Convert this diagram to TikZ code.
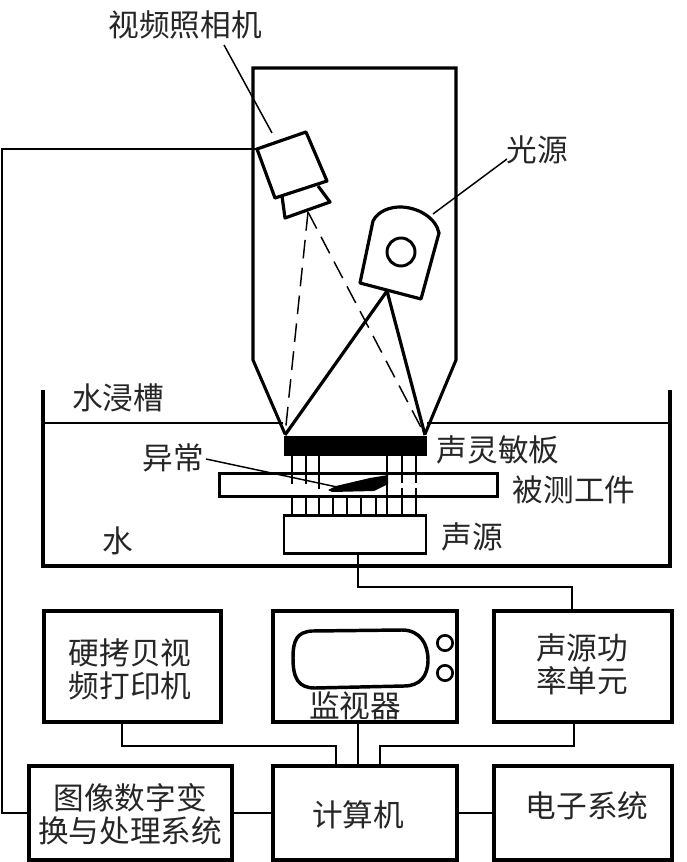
\documentclass[tikz,border=0pt]{standalone}
\usepackage{fontspec}
\newfontfamily\cjk{Noto Sans CJK SC}
\usetikzlibrary{calc}
\tikzset{
  x=0.75pt,y=-0.75pt,
  txt/.style={font=\cjk\fontsize{23}{25}\selectfont,inner sep=0pt,align=center,text=black!85},
  box/.style={draw,line width=2.6pt,inner sep=0pt,outer sep=0pt,fill=white},
  wire/.style={line width=1pt},
  wall/.style={line width=2.3pt},
  beam/.style={line width=2.4pt},
  lead/.style={line width=1.1pt},
  ray/.style={line width=1.1pt,dash pattern=on 14pt off 7pt},
  pin/.style={line width=1pt},
}
\begin{document}
\begin{tikzpicture}
\useasboundingbox (0,0) rectangle (686,862);
\fill[white] (0,0) rectangle (686,862);

% housing
\draw[wall,line join=miter] (285,434) -- (253,360) -- (253,68) -- (456,68) -- (456,360) -- (425,434);
% tank
\draw[wall] (43,390) -- (43,566) -- (670,566) -- (670,390);
\draw[wire] (43,423) -- (283,423);
\draw[wire] (427,423) -- (670,423);

% plate, workpiece, source
\node[draw,fill=black,line width=0.5pt,inner sep=0pt,outer sep=0pt,minimum width=106.5pt,minimum height=14.5pt] (plate) at (355,445.5) {};
\node[box,line width=2.2pt,minimum width=208.5pt,minimum height=17.5pt] (work) at (358.5,485) {};
\node[box,line width=2.2pt,minimum width=106.5pt,minimum height=29pt] (src) at (355,534.5) {};

% ultrasonic lines
\foreach \xx in {292,306,319,387,402,416}{
  \draw[pin] (\xx,456) -- (\xx,473);
  \draw[pin] (\xx,497) -- (\xx,515);
}
\foreach \xx in {333,347,361,376}{ \draw[pin] (\xx,497) -- (\xx,515); }
\foreach \xx in {292,306}{ \draw[pin] (\xx,473) -- (\xx,484); }
\draw[pin] (319,473) -- (319,489);
\draw[pin] (387,473) -- (387,497);
\foreach \xx in {402,416}{ \draw[pin] (\xx,473) -- (\xx,483); \draw[pin] (\xx,488) -- (\xx,497); }

% anomaly
\fill[black] (328,490) -- (336,486) -- (370,478) -- (388,475) -- (388,484) -- (374,491) -- (332,492) -- cycle;
\coordinate (anomalypt) at (337,487);
\node[txt] (lblano) at (173,458) {异常};
\draw[lead] (206,459) -- (anomalypt);

% camera
\draw[line width=2.4pt,line join=round,fill=white] (257,149) -- (306,132) -- (327,181) -- (275,198) -- cycle;
\draw[line width=2.4pt,line join=round] (282,196) -- (285,218) -- (330,202) -- (318,186);
\coordinate (lens) at (308,212);
\coordinate (camtop) at (272,133);
\coordinate (camleft) at (257,149);
\node[txt] (lblcam) at (185,25) {视频照相机};
\draw[lead] (224,45) -- (camtop);

% lamp
\draw[line width=2.4pt,line join=round] (360,283) -- (373,221) .. controls (378,211) and (390,207) .. (400,207) .. controls (418,207) and (436,218) .. (439,233) -- (421,299) -- cycle;
\node[draw,circle,line width=2.2pt,minimum size=21pt,inner sep=0pt,outer sep=0pt] (lampc) at (401,252) {};
\coordinate (lamptop) at (433,214);
\coordinate (lampfoot) at (387,291);
\node[txt] (lbllamp) at (537,150) {光源};
\draw[lead] (lamptop) -- (507,159);

% beams and rays
\coordinate (pl) at (285,435);
\coordinate (pr) at (425,435);
\draw[beam] (lampfoot) -- (pl);
\draw[beam] (lampfoot) -- (pr);
\draw[ray] (lens) -- (pl);
\draw[ray] (lens) -- (pr);

% labels in tank
\node[txt] (lbltank) at (118,398) {水浸槽};
\node[txt] (lblplate) at (498,450) {声灵敏板};
\node[txt] (lblwork) at (574,490) {被测工件};
\node[txt] (lblsrc) at (472,537) {声源};
\node[txt] (lblwater) at (118,541) {水};

% lower boxes
\node[box,minimum width=133pt,minimum height=83.5pt] (printer) at (132.5,666.5) {};
\node[box,minimum width=138pt,minimum height=83.5pt] (monitor) at (365,666.5) {};
\node[box,minimum width=133.5pt,minimum height=83.5pt] (power) at (583,666.5) {};
\node[box,minimum width=152pt,minimum height=70.5pt] (adc) at (130.5,813) {};
\node[box,minimum width=138pt,minimum height=70.5pt] (comp) at (365,813) {};
\node[box,minimum width=133.5pt,minimum height=70.5pt] (elec) at (583,813) {};

\node[txt] at (130,669.5) (tprinter) {硬拷贝视\\[0pt]频打印机};
\node[txt] at (582,664) (tpower) {声源功\\[0pt]率单元};
\node[txt] at (130,814) (tadc) {图像数字变\\[0pt]换与处理系统};
\node[txt] at (358,815) (tcomp) {计算机};
\node[txt] at (587,806) (telec) {电子系统};
\node[txt] at (355,706) (tmon) {监视器};

% monitor screen
\draw[line width=2.6pt,line join=round] (293,658) .. controls (293,640) and (297,632) .. (312,631)
  -- (402,630) .. controls (420,630) and (428,644) .. (428,660)
  .. controls (428,676) and (420,686) .. (404,686)
  -- (315,688) .. controls (298,688) and (293,678) .. (293,658) -- cycle;
\node[draw,circle,line width=2pt,minimum size=11.5pt,inner sep=0pt] (knoba) at (445,643) {};
\node[draw,circle,line width=2pt,minimum size=11.5pt,inner sep=0pt] (knobb) at (445,673) {};

% connectors
\draw[wire] (camleft) -- (2,149) -- (2,813) -- (adc.west);
\draw[line width=1.8pt] (2,813) -- (adc.west);
\draw[line width=1.8pt] (adc.east) -- (comp.west);
\draw[line width=1.8pt] (comp.east) -- (elec.west);
\draw[wire] (src.south -| 358,554) -- (358,587) -- (572,587) -- (power.north -| 572,611);
\draw[wire] (printer.south -| 122,722) -- (122,746) -- (336,746) -- (comp.north -| 336,766);
\draw[wire] (monitor.south -| 358,722) -- (comp.north -| 358,766);
\draw[wire] (power.south -| 574,722) -- (574,746) -- (380,746) -- (comp.north -| 380,766);
\end{tikzpicture}
\end{document}
